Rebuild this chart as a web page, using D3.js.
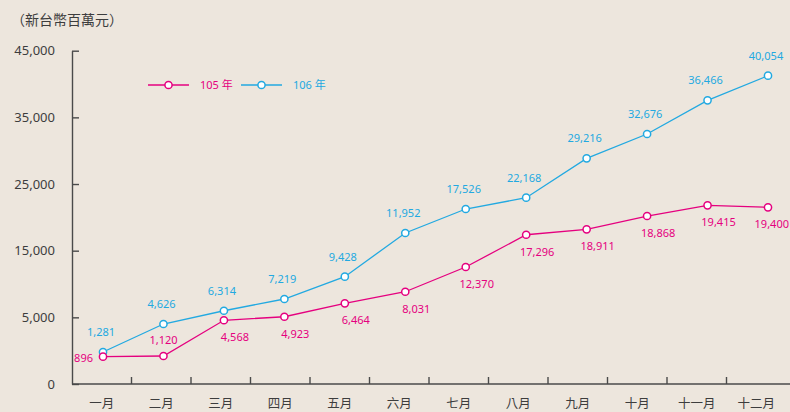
<!DOCTYPE html>
<html>
<head>
<meta charset="utf-8">
<script src="https://cdn.jsdelivr.net/npm/d3@7"></script>
<style>
  body { margin: 0; background: #ede6dd; }
  svg { display: block; }
  text { font-family: "Noto Sans", "Noto Sans CJK TC", sans-serif; }
</style>
</head>
<body>
<div id="chart"></div>
<script>
// months on the x axis
let months = ['一月', '二月', '三月', '四月', '五月', '六月', '七月', '八月', '九月', '十月', '十一月', '十二月'];

// y axis tick values as printed (the source spaces them evenly)
let yTicks = [0, 5000, 15000, 25000, 35000, 45000];

// printed figures (新台幣百萬元)
let label105 = [896, 1120, 4568, 4923, 6464, 8031, 12370, 17296, 18911, 18868, 19415, 19400];
let label106 = [1281, 4626, 6314, 7219, 9428, 11952, 17526, 22168, 29216, 32676, 36466, 40054];

// heights the markers are drawn at, read against the axis
let drawn105 = [2050, 2100, 4780, 5090, 7100, 8840, 12550, 17390, 18200, 20200, 21800, 21500];
let drawn106 = [2400, 4500, 5990, 7750, 11100, 17650, 21250, 22950, 28850, 32500, 37550, 41250];

let seriesNames = ['105 年', '106 年'];

let width = 790, height = 412;
let plotLeft = 72, plotBottom = 384, plotTop = 50.7;
let pink = '#e5007f', blue = '#22a9e1';
let axisColor = '#4a4a4a', textColor = '#3d3d3d';

let svg = d3.select('#chart').append('svg')
  .attr('width', width)
  .attr('height', height);

// band scale for the month axis, point scale for the markers
let x = d3.scaleBand().domain(months).range([plotLeft, 786]).padding(0);
let xp = d3.scalePoint().domain(months).range([103, 768]);

// evenly spaced ticks, so the scale is piecewise
let step = (plotBottom - plotTop) / (yTicks.length - 1);
let y = d3.scaleLinear()
  .domain(yTicks)
  .range(yTicks.map(function(d, i) { return plotBottom - i * step; }));

// unit label
svg.append('text')
  .attr('x', 11)
  .attr('y', 25)
  .attr('font-size', 14)
  .attr('fill', textColor)
  .style('font-family', '"Noto Sans CJK TC", sans-serif')
  .text('（新台幣百萬元）');

// y axis
let yAxis = svg.append('g')
  .attr('transform', 'translate(' + plotLeft + ',0)')
  .call(d3.axisLeft(y)
    .tickValues(yTicks)
    .tickSizeInner(-7)
    .tickSizeOuter(0)
    .tickPadding(17)
    .tickFormat(d3.format(',')));
yAxis.selectAll('path, line').attr('stroke', axisColor).attr('stroke-width', 1.4);
yAxis.selectAll('text').attr('font-size', 13).attr('fill', textColor)
  .style('font-family', '"Noto Sans", sans-serif');

// x axis labels
let xAxis = svg.append('g')
  .attr('transform', 'translate(0,' + plotBottom + ')')
  .call(d3.axisBottom(x).tickSize(0).tickPadding(15));
xAxis.select('.domain').remove();
xAxis.selectAll('text').attr('font-size', 12.5).attr('fill', textColor)
  .style('font-family', '"Noto Sans CJK TC", sans-serif');

// x axis base line and ticks on band edges
svg.append('line')
  .attr('x1', plotLeft).attr('x2', width)
  .attr('y1', plotBottom).attr('y2', plotBottom)
  .attr('stroke', axisColor).attr('stroke-width', 1.4);

svg.append('g').selectAll('line')
  .data(months.slice(1))
  .enter()
  .append('line')
  .attr('x1', function(d) { return x(d); })
  .attr('x2', function(d) { return x(d); })
  .attr('y1', plotBottom)
  .attr('y2', plotBottom - 7)
  .attr('stroke', axisColor)
  .attr('stroke-width', 1.4);

let line = d3.line()
  .x(function(d, i) { return xp(months[i]); })
  .y(function(d) { return y(d); });

function drawSeries(values, color) {
  svg.append('path')
    .datum(values)
    .attr('d', line)
    .attr('fill', 'none')
    .attr('stroke', color)
    .attr('stroke-width', 1.3);

  svg.append('g').selectAll('circle')
    .data(values)
    .enter()
    .append('circle')
    .attr('cx', function(d, i) { return xp(months[i]); })
    .attr('cy', function(d) { return y(d); })
    .attr('r', 3.6)
    .attr('fill', '#fff')
    .attr('stroke', color)
    .attr('stroke-width', 1.5);
}

drawSeries(drawn106, blue);
drawSeries(drawn105, pink);

let fmt = d3.format(',');
let last = months.length - 1;

// 106 labels sit above the markers
svg.append('g').selectAll('text')
  .data(label106)
  .enter()
  .append('text')
  .attr('x', function(d, i) { return xp(months[i]) - 2; })
  .attr('y', function(d, i) { return y(drawn106[i]) - 16; })
  .attr('text-anchor', 'middle')
  .attr('font-size', 11)
  .attr('fill', blue)
  .text(function(d) { return fmt(d); });

// 105 labels sit below and to the right, except the first two;
// the last one is pulled in so it stays inside the page
svg.append('g').selectAll('text')
  .data(label105)
  .enter()
  .append('text')
  .attr('x', function(d, i) {
    if (i === 0) return xp(months[i]) - 10;
    if (i === 1) return xp(months[i]);
    if (i === last) return width - 1;
    return xp(months[i]) + 11;
  })
  .attr('y', function(d, i) {
    if (i === 0) return y(drawn105[i]) + 5;
    if (i === 1) return y(drawn105[i]) - 12;
    return y(drawn105[i]) + 21;
  })
  .attr('text-anchor', function(d, i) {
    if (i === 0 || i === last) return 'end';
    return 'middle';
  })
  .attr('font-size', 11)
  .attr('fill', pink)
  .text(function(d) { return fmt(d); });

// legend
let legend = svg.append('g');
let legendX = [148, 241];
[pink, blue].forEach(function(c, i) {
  let g = legend.append('g').attr('transform', 'translate(' + legendX[i] + ',85)');
  g.append('line').attr('x1', 0).attr('x2', 41).attr('stroke', c).attr('stroke-width', 1.3);
  g.append('circle').attr('cx', 20.5).attr('r', 3.6).attr('fill', '#fff')
    .attr('stroke', c).attr('stroke-width', 1.5);
  g.append('text').attr('x', 52).attr('y', 4).attr('font-size', 11)
    .attr('fill', c).text(seriesNames[i]);
});
</script>
</body>
</html>
